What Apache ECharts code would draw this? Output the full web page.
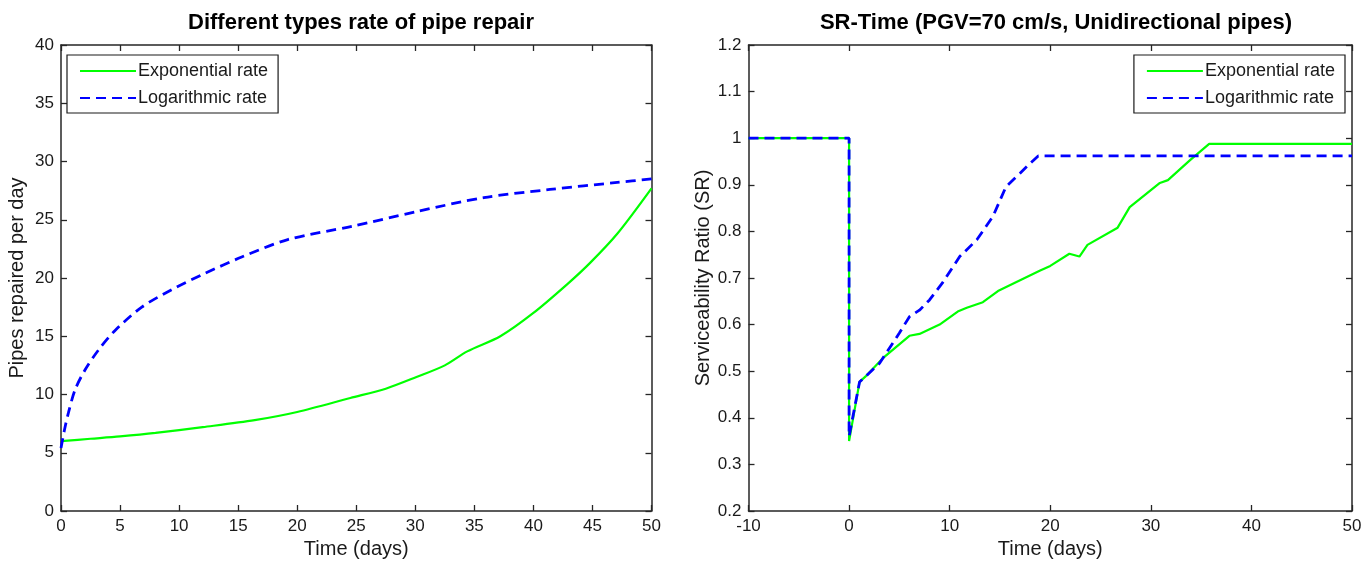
<!DOCTYPE html>
<html>
<head>
<meta charset="utf-8">
<script src="https://cdn.jsdelivr.net/npm/echarts@6/dist/echarts.min.js"></script>
<style>
html,body{margin:0;padding:0;background:#fff;}
#c{width:1370px;height:572px;}
</style>
</head>
<body>
<div id="c"></div>
<script>
// ---- Data ----
const leftTitle = 'Different types rate of pipe repair';
const rightTitle = 'SR-Time (PGV=70 cm/s, Unidirectional pipes)';
const seriesNames = ['Exponential rate', 'Logarithmic rate'];

const leftExpX = [0, 2.5, 5, 8, 12, 16.4, 20, 24.5, 27.5, 30.1, 32.5, 34.4, 37.2, 40, 42.9, 44.8, 47.1, 50];
const leftExpY = [6.0, 6.2, 6.4, 6.7, 7.2, 7.8, 8.5, 9.7, 10.5, 11.5, 12.5, 13.7, 15.0, 17.0, 19.5, 21.3, 23.8, 27.7];

const leftLogX = [0, 0.3, 0.62, 1.19, 2.03, 3.16, 4.58, 6.84, 9.38, 12.2, 15.3, 19.2, 24.7, 30.1, 35.8, 41.4, 47.1, 50];
const leftLogY = [5.4, 7.0, 8.4, 10.4, 12.1, 13.8, 15.5, 17.5, 19.0, 20.4, 21.8, 23.3, 24.45, 25.7, 26.9, 27.6, 28.2, 28.5];

const rightExpX = [-10, 0, 0, 1.04, 1.7, 3.36, 6.0, 7.0, 9.0, 10.8, 11.7, 13.3, 14.8, 17, 19.0, 20.0, 21.9, 22.9, 23.7, 26.7, 27.9, 30.9, 31.7, 33.9, 35.8, 50];
const rightExpY = [1.0, 1.0, 0.35, 0.477, 0.49, 0.528, 0.576, 0.58, 0.6, 0.628, 0.636, 0.648, 0.672, 0.695, 0.716, 0.726, 0.752, 0.746, 0.771, 0.808, 0.852, 0.904, 0.91, 0.953, 0.988, 0.988];

const rightLogX = [-10, 0, 0, 1.04, 1.7, 3.03, 5.0, 6.0, 7.0, 8.0, 9.3, 11.0, 12.7, 14.3, 15.6, 17.0, 18.0, 18.8, 50];
const rightLogY = [1.0, 1.0, 0.36, 0.477, 0.49, 0.517, 0.582, 0.617, 0.631, 0.653, 0.69, 0.746, 0.782, 0.832, 0.896, 0.925, 0.946, 0.962, 0.962];

const leftXTicks = {min: 0, max: 50, interval: 5};
const leftYTicks = {min: 0, max: 40, interval: 5};
const rightXTicks = {min: -10, max: 50, interval: 10};
const rightYTicks = {min: 0.2, max: 1.2, interval: 0.1};

// ---- Chart ----
const FONT = '"Liberation Sans", Arial, Helvetica, sans-serif';
const AX = '#262626';
const pair = (xs, ys) => xs.map((x, i) => [x, ys[i]]);
const fmt = v => String(+v.toFixed(1));

function mkAxis(t, gridIndex, position, showLabels, name, nameGap) {
  return {
    type: 'value', gridIndex, position, min: t.min, max: t.max, interval: t.interval,
    axisLine: {show: true, onZero: false, lineStyle: {color: AX, width: 1.5}},
    axisTick: {show: true, inside: true, length: 6, lineStyle: {color: AX, width: 1.3}},
    axisLabel: {show: showLabels, color: '#1a1a1a', fontSize: 17, fontFamily: FONT, margin: 7, formatter: fmt},
    splitLine: {show: false},
    name: name || '', nameLocation: 'middle', nameGap: nameGap || 0,
    nameTextStyle: {color: '#1a1a1a', fontSize: 20, fontFamily: FONT}
  };
}

const grids = [
  {left: 61, top: 45, width: 590.5, height: 466},
  {left: 748.5, top: 45, width: 603.5, height: 466}
];

const expStyle = {color: '#00ff00', width: 2.2, type: 'solid'};
const logStyle = {color: '#0000ff', width: 2.8, type: [10, 6]};

function mkSeries(name, data, xi, yi, ls, z, smooth) {
  return {
    name, type: 'line', xAxisIndex: xi, yAxisIndex: yi, data, symbol: 'none',
    smooth: smooth || false,
    lineStyle: ls, itemStyle: {color: ls.color}, z, animation: false, clip: true
  };
}

function mkLegend(pos) {
  return Object.assign({
    orient: 'vertical', data: seriesNames, backgroundColor: '#fff',
    borderColor: '#1a1a1a', borderWidth: 1.2, padding: [7, 10, 6, 12], itemGap: 9,
    itemWidth: 56, itemHeight: 14,
    itemStyle: {opacity: 0},
    textStyle: {fontSize: 18, fontFamily: FONT, color: '#1a1a1a', padding: [0, 0, 0, -3]},
    selectedMode: false
  }, pos);
}

const option = {
  animation: false,
  backgroundColor: '#fff',
  title: [
    {text: leftTitle, left: 356, top: 7, textAlign: 'center',
     textStyle: {fontSize: 22, fontWeight: 'bold', fontFamily: FONT, color: '#000'}},
    {text: rightTitle, left: 1051, top: 7, textAlign: 'center',
     textStyle: {fontSize: 22, fontWeight: 'bold', fontFamily: FONT, color: '#000'}}
  ],
  legend: [
    mkLegend({left: 67, top: 55}),
    mkLegend({right: 25, top: 55})
  ],
  grid: grids,
  xAxis: [
    mkAxis(leftXTicks, 0, 'bottom', true, 'Time (days)', 28),
    mkAxis(leftXTicks, 0, 'top', false),
    mkAxis(rightXTicks, 1, 'bottom', true, 'Time (days)', 28),
    mkAxis(rightXTicks, 1, 'top', false)
  ],
  yAxis: [
    mkAxis(leftYTicks, 0, 'left', true, 'Pipes repaired per day', 34),
    mkAxis(leftYTicks, 0, 'right', false),
    mkAxis(rightYTicks, 1, 'left', true, 'Serviceability Ratio (SR)', 33),
    mkAxis(rightYTicks, 1, 'right', false)
  ],
  series: [
    mkSeries(seriesNames[0], pair(leftExpX, leftExpY), 0, 0, expStyle, 2, 0.3),
    mkSeries(seriesNames[1], pair(leftLogX, leftLogY), 0, 0, logStyle, 3, 0.3),
    mkSeries(seriesNames[0], pair(rightExpX, rightExpY), 2, 2, expStyle, 2),
    mkSeries(seriesNames[1], pair(rightLogX, rightLogY), 2, 2, logStyle, 3)
  ]
};

const chart = echarts.init(document.getElementById('c'), null, {renderer: 'canvas'});
chart.setOption(option);
</script>
</body>
</html>
